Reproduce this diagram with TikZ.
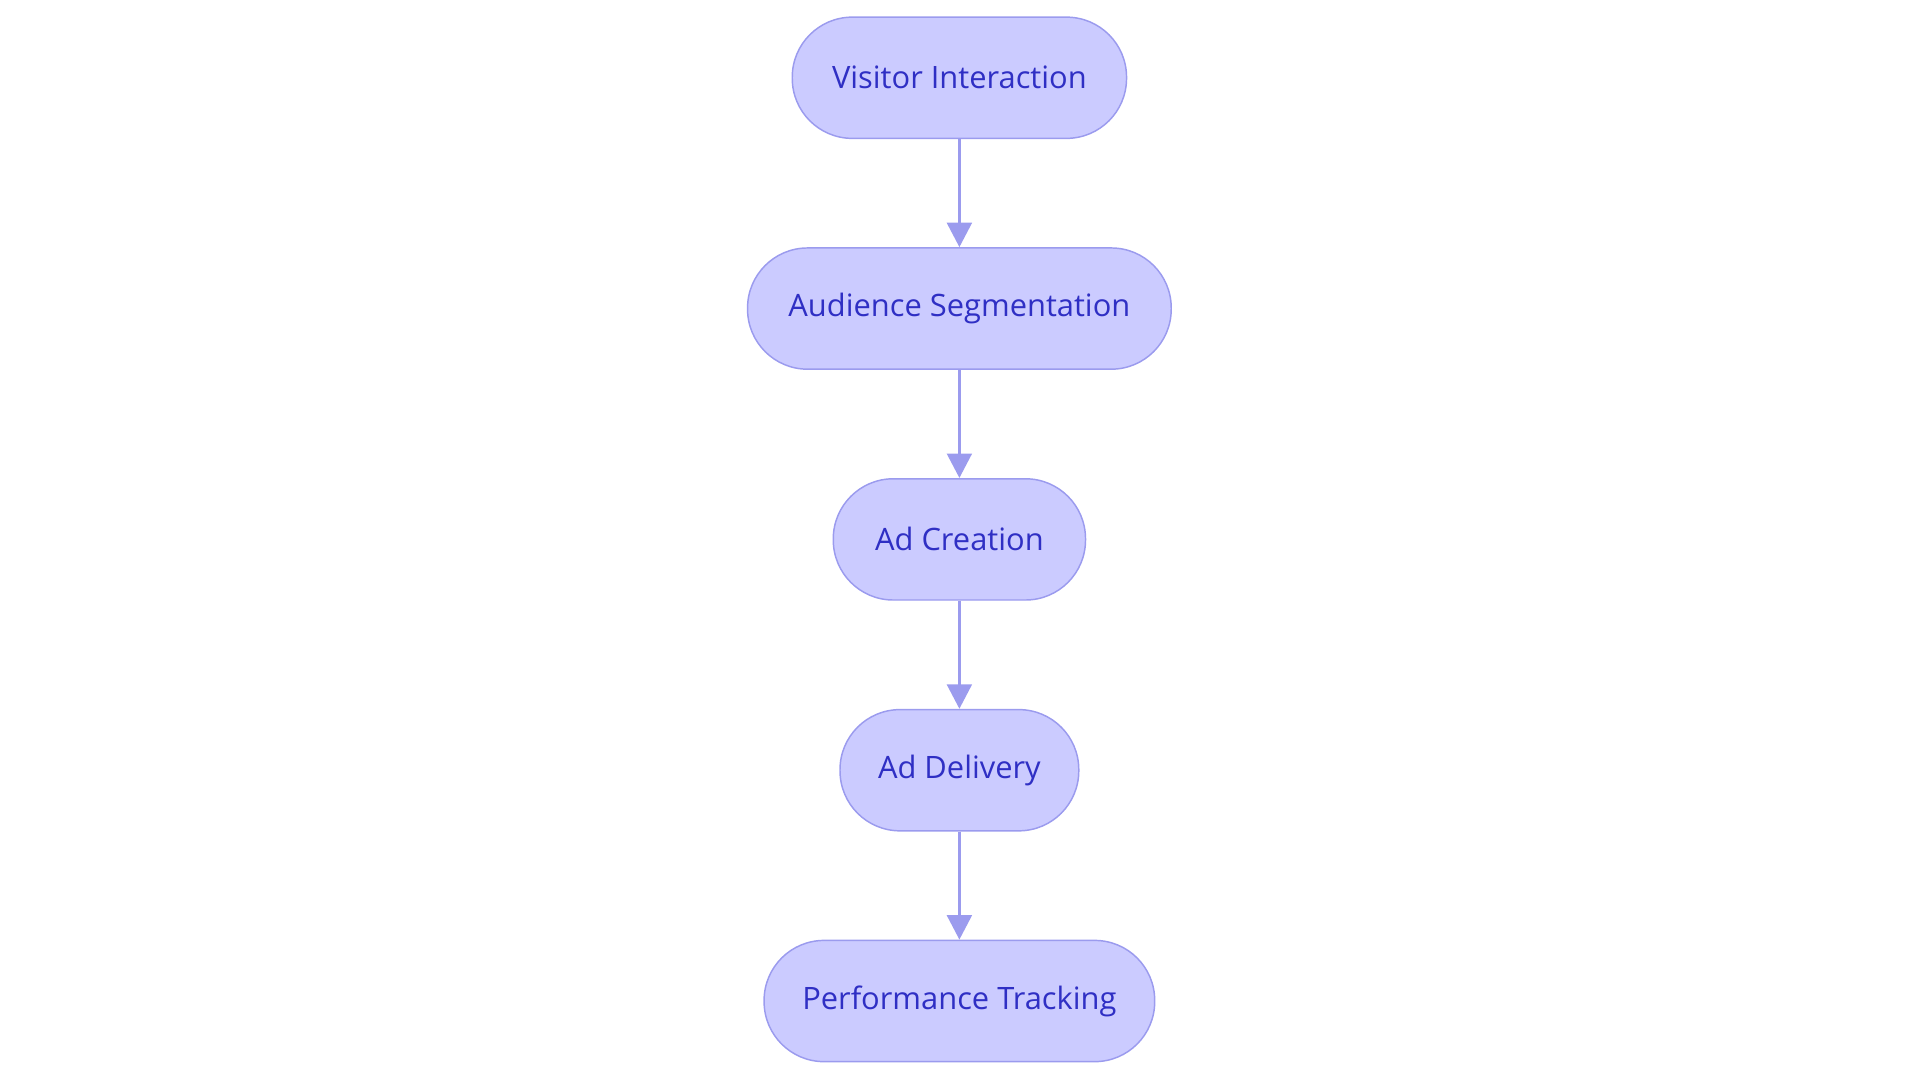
\documentclass[tikz,border=0pt]{standalone}
\usepackage{fontspec}
\setmainfont{Open Sans}
\usetikzlibrary{arrows.meta}
\definecolor{nfill}{HTML}{CBCBFF}
\definecolor{nstroke}{HTML}{9B9BEE}
\definecolor{ntext}{HTML}{2F2FC4}
\begin{document}
\begin{tikzpicture}[x=0.5pt,y=-0.5pt,
  box/.style={draw=nstroke,fill=nfill,line width=0.6pt,rounded corners=24.5pt,minimum height=49.5pt,inner sep=0pt,text=ntext,font=\fontsize{12.6}{14}\selectfont},
  arr/.style={draw=nstroke,line width=1.5pt,-{Triangle[length=10pt,width=10pt]}}]
\useasboundingbox (0,0) rectangle (1568,884);
\node[box,minimum width=136.5pt] (a) at (783.5,63.5) {Visitor Interaction};
\node[box,minimum width=173pt] (b) at (783.5,252) {Audience Segmentation};
\node[box,minimum width=103pt] (c) at (783.5,440.5) {Ad Creation};
\node[box,minimum width=97.5pt] (d) at (783.5,629) {Ad Delivery};
\node[box,minimum width=159.5pt] (e) at (783.5,817.5) {Performance Tracking};
\draw[arr] (a) -- (b);
\draw[arr] (b) -- (c);
\draw[arr] (c) -- (d);
\draw[arr] (d) -- (e);
\end{tikzpicture}
\end{document}
